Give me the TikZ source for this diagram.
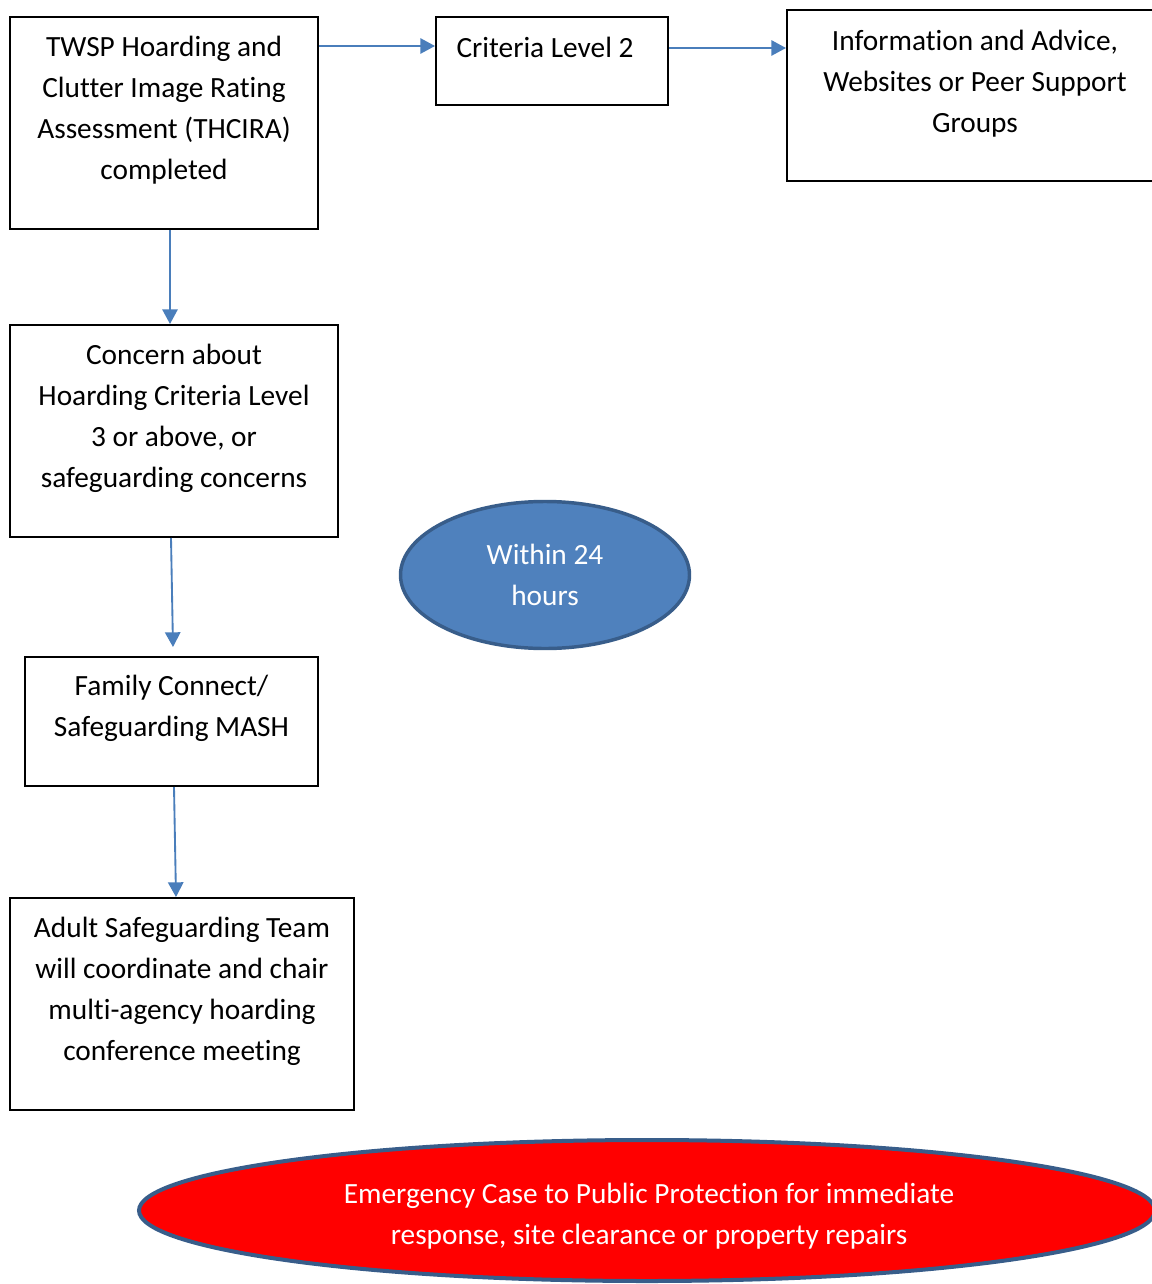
\documentclass[tikz,border=0pt]{standalone}
\usepackage{fontspec}
\setmainfont[Ligatures=NoCommon]{Carlito}
\usetikzlibrary{shapes.geometric,arrows.meta,calc}
\definecolor{arrowblue}{HTML}{4A7EBB}
\definecolor{ellborder}{HTML}{385D8A}
\definecolor{ellfill}{HTML}{4F81BD}
\definecolor{redfill}{HTML}{FF0000}
\tikzset{
  stepbox/.style={draw=black, line width=1.5pt, rectangle, inner sep=0pt},
  txt/.style={font=\fontsize{22}{30.75}\selectfont, align=center, inner sep=0pt},
  arr/.style={draw=arrowblue, line width=1.4pt, -{Triangle[length=11pt,width=11.5pt]}},
  blueell/.style={ellipse, draw=ellborder, fill=ellfill, line width=2.6pt, inner sep=0pt, text=white, txt},
  redell/.style={ellipse, draw=ellborder, fill=redfill, line width=3pt, inner sep=0pt}
}
\begin{document}
\begin{tikzpicture}[x=0.75pt,y=-0.75pt]
\useasboundingbox (0,0) rectangle (1152,1284);

\node[stepbox, minimum width=231pt, minimum height=159pt,
  label={[txt,yshift=9.4pt]center:{TWSP Hoarding and\\Clutter Image Rating\\Assessment (THCIRA)\\completed}}] (b1) at (164,123) {};
\node[stepbox, minimum width=174pt, minimum height=66pt,
  label={[txt,yshift=10.2pt,xshift=-5.25pt]center:{Criteria Level 2}}] (b2) at (552,61) {};
\node[stepbox, minimum width=282pt, minimum height=128.25pt,
  label={[txt,yshift=9.2pt]center:{Information and Advice,\\Websites or Peer Support\\Groups}}] (b3) at (975,95.5) {};
\node[stepbox, minimum width=246pt, minimum height=159pt,
  label={[txt,yshift=9.2pt]center:{Concern about\\Hoarding Criteria Level\\3 or above, or\\safeguarding concerns}}] (b4) at (174,431) {};
\node[stepbox, minimum width=219.75pt, minimum height=96.75pt,
  label={[txt,yshift=9.8pt]center:{Family Connect/\\Safeguarding MASH}}] (b5) at (171.5,721.5) {};
\node[stepbox, minimum width=258pt, minimum height=159pt,
  label={[txt,yshift=9.2pt]center:{Adult Safeguarding Team\\will coordinate and chair\\multi-agency hoarding\\conference meeting}}] (b6) at (182,1004) {};

\node[blueell, minimum width=216.75pt, minimum height=110.25pt] (e1) at (545,575) {Within 24\\hours};
\node[redell, minimum width=762pt, minimum height=105.75pt,
  label={[txt,text=white,yshift=-4.6pt,xshift=1.5pt]center:{Emergency Case to Public Protection for immediate\\response, site clearance or property repairs}}] (e2) at (647,1210.5) {};

\draw[arr] ($(b1.east)+(0,-77)$) -- ($(b2.west)+(0,-15)$);
\draw[arr] ($(b2.east)+(0,-13)$) -- ($(b3.west)+(0,-47.5)$);
\draw[arr] ($(b1.south)+(6,0)$) -- ($(b4.north)+(-4,0)$);
\draw[arr] ($(b4.south)+(-3,0)$) -- ($(b5.north)+(1.5,-9)$);
\draw[arr] ($(b5.south)+(2.5,0)$) -- ($(b6.north)+(-6,0)$);
\end{tikzpicture}
\end{document}
